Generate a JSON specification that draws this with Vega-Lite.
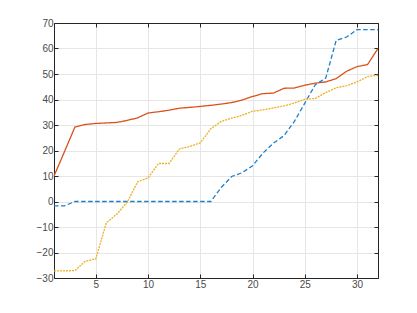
{
  "$schema": "https://vega.github.io/schema/vega-lite/v6.json",
  "autosize": {"type": "none"},
  "width": 324,
  "height": 255,
  "padding": {"left": 54, "top": 23, "right": 39, "bottom": 35},
  "background": "white",
  "config": {
    "view": {"stroke": "#262626", "strokeWidth": 1},
    "axis": {
      "labelFont": "Liberation Sans",
      "labelFontSize": 10,
      "labelColor": "#4a4a4a",
      "domainColor": "#262626",
      "tickColor": "#262626",
      "gridColor": "#e6e6e6",
      "gridWidth": 1,
      "tickSize": -4,
      "labelPadding": 5
    }
  },
  "data": {
    "values": [
      {"x":1,"v":10,"s":"b"},{"x":2,"v":19.5,"s":"b"},{"x":3,"v":29.2,"s":"b"},{"x":4,"v":30.2,"s":"b"},{"x":5,"v":30.6,"s":"b"},{"x":6,"v":30.8,"s":"b"},{"x":7,"v":31,"s":"b"},{"x":8,"v":31.8,"s":"b"},{"x":9,"v":32.8,"s":"b"},{"x":10,"v":34.7,"s":"b"},{"x":11,"v":35.2,"s":"b"},{"x":12,"v":35.8,"s":"b"},{"x":13,"v":36.6,"s":"b"},{"x":14,"v":36.9,"s":"b"},{"x":15,"v":37.3,"s":"b"},{"x":16,"v":37.7,"s":"b"},{"x":17,"v":38.2,"s":"b"},{"x":18,"v":38.8,"s":"b"},{"x":19,"v":39.8,"s":"b"},{"x":20,"v":41.2,"s":"b"},{"x":21,"v":42.3,"s":"b"},{"x":22,"v":42.5,"s":"b"},{"x":23,"v":44.4,"s":"b"},{"x":24,"v":44.5,"s":"b"},{"x":25,"v":45.6,"s":"b"},{"x":26,"v":46.4,"s":"b"},{"x":27,"v":46.9,"s":"b"},{"x":28,"v":48.2,"s":"b"},{"x":29,"v":51.1,"s":"b"},{"x":30,"v":52.9,"s":"b"},{"x":31,"v":53.7,"s":"b"},{"x":32,"v":60,"s":"b"},
      {"x":1,"v":-1.7,"s":"a"},{"x":2,"v":-1.7,"s":"a"},{"x":3,"v":0,"s":"a"},{"x":4,"v":0,"s":"a"},{"x":5,"v":0,"s":"a"},{"x":6,"v":0,"s":"a"},{"x":7,"v":0,"s":"a"},{"x":8,"v":0,"s":"a"},{"x":9,"v":0,"s":"a"},{"x":10,"v":0,"s":"a"},{"x":11,"v":0,"s":"a"},{"x":12,"v":0,"s":"a"},{"x":13,"v":0,"s":"a"},{"x":14,"v":0,"s":"a"},{"x":15,"v":0,"s":"a"},{"x":16,"v":0,"s":"a"},{"x":17,"v":5.5,"s":"a"},{"x":18,"v":9.8,"s":"a"},{"x":19,"v":11.3,"s":"a"},{"x":20,"v":14,"s":"a"},{"x":21,"v":19,"s":"a"},{"x":22,"v":22.9,"s":"a"},{"x":23,"v":25.8,"s":"a"},{"x":24,"v":31.4,"s":"a"},{"x":25,"v":38.6,"s":"a"},{"x":26,"v":45.8,"s":"a"},{"x":27,"v":48.4,"s":"a"},{"x":28,"v":63.2,"s":"a"},{"x":29,"v":64.5,"s":"a"},{"x":30,"v":67.4,"s":"a"},{"x":31,"v":67.4,"s":"a"},{"x":32,"v":67.4,"s":"a"},
      {"x":1,"v":-27.2,"s":"c"},{"x":2,"v":-27.2,"s":"c"},{"x":3,"v":-27.1,"s":"c"},{"x":4,"v":-23.4,"s":"c"},{"x":5,"v":-22.5,"s":"c"},{"x":6,"v":-8.4,"s":"c"},{"x":7,"v":-5,"s":"c"},{"x":8,"v":-0.3,"s":"c"},{"x":9,"v":7.7,"s":"c"},{"x":10,"v":9.3,"s":"c"},{"x":11,"v":14.9,"s":"c"},{"x":12,"v":14.9,"s":"c"},{"x":13,"v":20.6,"s":"c"},{"x":14,"v":21.6,"s":"c"},{"x":15,"v":23,"s":"c"},{"x":16,"v":28.5,"s":"c"},{"x":17,"v":31.4,"s":"c"},{"x":18,"v":32.7,"s":"c"},{"x":19,"v":33.8,"s":"c"},{"x":20,"v":35.4,"s":"c"},{"x":21,"v":35.9,"s":"c"},{"x":22,"v":36.7,"s":"c"},{"x":23,"v":37.5,"s":"c"},{"x":24,"v":38.6,"s":"c"},{"x":25,"v":40.1,"s":"c"},{"x":26,"v":40.4,"s":"c"},{"x":27,"v":42.7,"s":"c"},{"x":28,"v":44.6,"s":"c"},{"x":29,"v":45.4,"s":"c"},{"x":30,"v":46.9,"s":"c"},{"x":31,"v":49,"s":"c"},{"x":32,"v":49.5,"s":"c"}
    ]
  },
  "layer": [
    {
      "mark": {"type": "line", "strokeWidth": 1.3, "clip": true},
      "encoding": {
        "x": {"field": "x", "type": "quantitative", "scale": {"domain": [1, 32], "nice": false, "zero": false},
              "axis": {"title": null, "values": [5,10,15,20,25,30], "grid": true}},
        "y": {"field": "v", "type": "quantitative", "scale": {"domain": [-30, 70], "nice": false, "zero": false},
              "axis": {"title": null, "values": [-30,-20,-10,0,10,20,30,40,50,60,70], "grid": true}},
        "color": {"field": "s", "type": "nominal", "legend": null,
                  "scale": {"domain": ["a","b","c"], "range": ["#1f7fc8","#D95319","#EDB120"]}},
        "strokeDash": {"field": "s", "type": "nominal", "legend": null,
                  "scale": {"domain": ["a","b","c"], "range": [[4.5,2.5],[1,0],[2,1]]}}
      }
    },
    {
      "mark": {"type": "line", "opacity": 0},
      "encoding": {
        "x": {"field": "x", "type": "quantitative", "scale": {"domain": [1, 32], "nice": false, "zero": false},
              "axis": {"orient": "top", "title": null, "labels": false, "values": [5,10,15,20,25,30], "grid": false}},
        "y": {"field": "v", "type": "quantitative", "scale": {"domain": [-30, 70], "nice": false, "zero": false},
              "axis": {"orient": "right", "title": null, "labels": false, "values": [-30,-20,-10,0,10,20,30,40,50,60,70], "grid": false}},
        "detail": {"field": "s"}
      }
    }
  ],
  "resolve": {"axis": {"x": "independent", "y": "independent"}}
}
